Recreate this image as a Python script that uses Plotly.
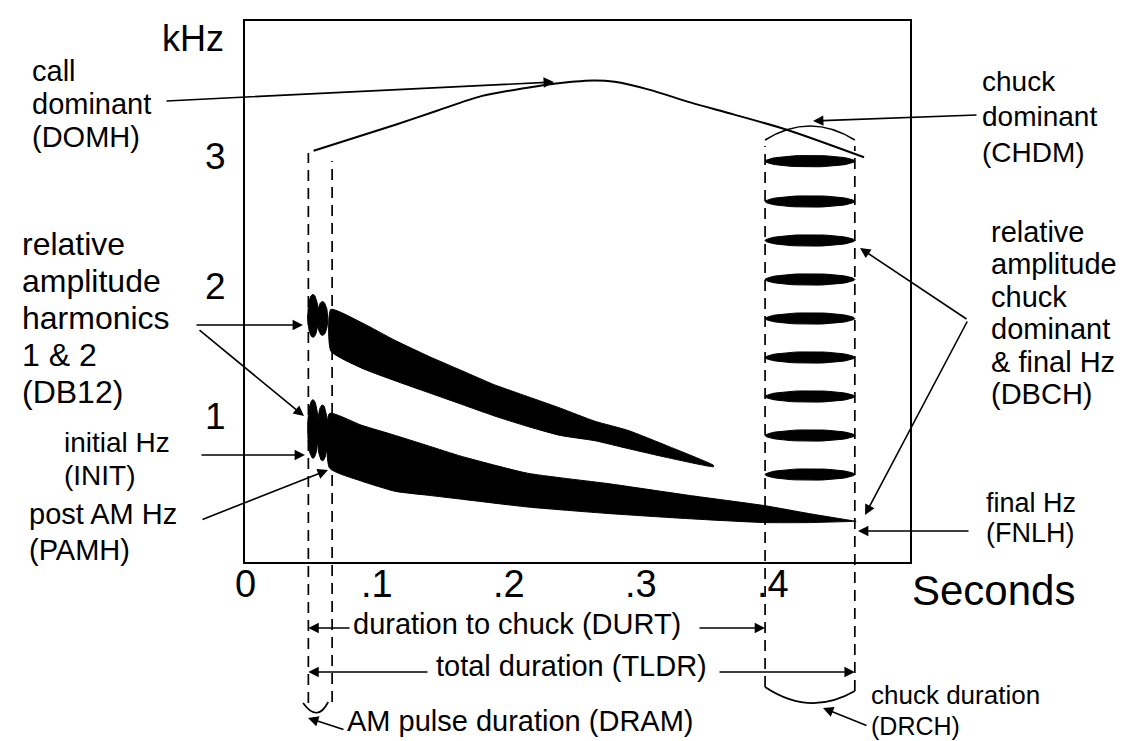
import numpy as np
import plotly.graph_objects as go

# ------------------------------------------------------------------ data
x_tick_vals = [0.0, 0.1, 0.2, 0.3, 0.4]
x_tick_text = ["0", ".1", ".2", ".3", ".4"]
y_tick_vals = [1, 2, 3]
y_tick_text = ["1", "2", "3"]

# call events (seconds)
call_start = 0.048
am_end = 0.066
chuck_start = 0.394
call_end = 0.462

# call dominant frequency contour (DOMH), kHz
domh_t = [0.052, 0.114, 0.146, 0.179, 0.211, 0.230, 0.264, 0.280, 0.306, 0.338, 0.370, 0.411, 0.469]
domh_khz = [3.04, 3.24, 3.35, 3.46, 3.52, 3.55, 3.58, 3.57, 3.51, 3.41, 3.32, 3.20, 2.99]

# harmonic 2 band (upper / lower edge, kHz)
h2_t = [0.065, 0.088, 0.114, 0.139, 0.164, 0.189, 0.214, 0.239, 0.265, 0.290, 0.320, 0.355]
h2_top = [1.82, 1.72, 1.58, 1.46, 1.35, 1.24, 1.15, 1.06, 0.96, 0.89, 0.77, 0.62]
h2_bottom = [1.50, 1.37, 1.27, 1.18, 1.09, 1.00, 0.92, 0.85, 0.81, 0.75, 0.68, 0.61]

# harmonic 1 band (upper / lower edge, kHz)
h1_t = [0.064, 0.088, 0.114, 0.139, 0.164, 0.214, 0.275, 0.336, 0.394, 0.427, 0.463]
h1_top = [1.02, 0.93, 0.85, 0.77, 0.69, 0.56, 0.48, 0.39, 0.31, 0.25, 0.19]
h1_bottom = [0.60, 0.50, 0.42, 0.39, 0.36, 0.30, 0.25, 0.21, 0.18, 0.18, 0.19]

# AM pulse lobes
am_lobe_t = [0.0515, 0.0587]
h2_lobe_khz = [1.77, 1.75]
h2_lobe_half = [0.165, 0.13]
h1_lobe_khz = [0.90, 0.87]
h1_lobe_half = [0.225, 0.215]

# chuck pulses (kHz)
chuck_khz = [2.96, 2.65, 2.35, 2.05, 1.75, 1.45, 1.15, 0.85, 0.55]
chuck_half_khz = 0.044

# ------------------------------------------------------------------ layout helpers
W, H = 1137, 741
X0, X1, Y0, Y1 = 237, 902, 13, 554          # plot box in pixels
T_RANGE = [0.0, 0.5038]
F_RANGE = [-0.123, 4.038]
FONT = "Liberation Sans, Arial, Helvetica, sans-serif"


def tx(px):
    return T_RANGE[0] + (px - X0) / (X1 - X0) * (T_RANGE[1] - T_RANGE[0])


def fy(py):
    return F_RANGE[1] - (py - Y0) / (Y1 - Y0) * (F_RANGE[1] - F_RANGE[0])


def pxp(px):
    return (px - X0) / (X1 - X0)


def pyp(py):
    return (Y1 - py) / (Y1 - Y0)


fig = go.Figure()

# harmonic bands
for t, top, bot in [(h2_t, h2_top, h2_bottom), (h1_t, h1_top, h1_bottom)]:
    xs = list(t) + list(t[::-1]) + [t[0]]
    ys = list(top) + list(bot[::-1]) + [top[0]]
    fig.add_trace(go.Scatter(x=xs, y=ys, mode="lines", fill="toself",
                             fillcolor="black", line=dict(color="black", width=1, shape="spline", smoothing=0.5),
                             hoverinfo="skip"))

# AM lobes
th = np.linspace(0, 2 * np.pi, 60)
lobe_hw = 0.0040
for lf, lh in [(h2_lobe_khz, h2_lobe_half), (h1_lobe_khz, h1_lobe_half)]:
    for ct, cf, hh in zip(am_lobe_t, lf, lh):
        fig.add_trace(go.Scatter(x=ct + lobe_hw * np.cos(th), y=cf + hh * np.sin(th),
                                 mode="lines", fill="toself", fillcolor="black",
                                 line=dict(color="black", width=1), hoverinfo="skip"))

# chucks
c_mid = (chuck_start + call_end) / 2
c_hw = (call_end - chuck_start) / 2
for cf in chuck_khz:
    s = np.sin(th)
    fig.add_trace(go.Scatter(x=c_mid + c_hw * np.cos(th),
                             y=cf + chuck_half_khz * np.sign(s) * np.abs(s) ** 1.1,
                             mode="lines", fill="toself", fillcolor="black",
                             line=dict(color="black", width=1), hoverinfo="skip"))

# dominant frequency contour
fig.add_trace(go.Scatter(x=domh_t, y=domh_khz, mode="lines",
                         line=dict(color="black", width=2, shape="spline", smoothing=0.8),
                         hoverinfo="skip"))

shapes = []
dash = "11px,7px"
for t, ptop, pbot in [(call_start, 145, 695), (am_end, 153, 694),
                      (chuck_start, 138, 679), (call_end, 138, 683)]:
    shapes.append(dict(type="line", xref="x", yref="paper", x0=t, x1=t,
                       y0=pyp(pbot), y1=pyp(ptop), line=dict(color="black", width=1.7, dash=dash)))
# chuck dominant bracket (top)
shapes.append(dict(type="path", xref="x", yref="y",
                   path=f"M {chuck_start},{fy(132)} Q {c_mid},{fy(104)} {call_end},{fy(132)}",
                   line=dict(color="black", width=1.7)))
# chuck duration bracket (bottom)
shapes.append(dict(type="path", xref="x", yref="paper",
                   path=f"M {chuck_start},{pyp(679)} Q {c_mid},{pyp(709)} {call_end},{pyp(683)}",
                   line=dict(color="black", width=1.7)))
# AM pulse bracket
am_mid = (call_start + am_end) / 2
shapes.append(dict(type="path", xref="x", yref="paper",
                   path=f"M {call_start - 0.004},{pyp(695)} Q {am_mid - 0.002},{pyp(715)} {am_end - 0.003},{pyp(694)}",
                   line=dict(color="black", width=1.7)))

annotations = []

# x tick labels (drawn at the tick values on the time axis, just below the frame)
XTICK_SIZE = 38
for v, lab in zip(x_tick_vals, x_tick_text):
    annotations.append(dict(text=lab, xref="x", yref="paper", x=v,
                            y=pyp(589 - 0.3465 * XTICK_SIZE), xanchor="center", yanchor="middle",
                            showarrow=False, font=dict(size=XTICK_SIZE, color="black", family=FONT)))

# text labels: (text, left px, baseline px, size)
labels = [
    ("kHz", 153, 43, 36),
    ("call", 23, 73, 29), ("dominant", 23, 106, 29), ("(DOMH)", 23, 139, 29),
    ("relative", 13, 247, 32), ("amplitude", 13, 284, 32), ("harmonics", 13, 321, 32),
    ("1 & 2", 13, 358, 32), ("(DB12)", 13, 395, 32),
    ("initial Hz", 55, 444, 28), ("(INIT)", 55, 477, 28),
    ("post AM Hz", 20, 516, 29), ("(PAMH)", 20, 552, 29),
    ("chuck", 973, 83, 28), ("dominant", 973, 118, 28), ("(CHDM)", 973, 154, 28),
    ("relative", 982, 234, 29), ("amplitude", 982, 266, 29), ("chuck", 982, 299, 29),
    ("dominant", 982, 331, 29), ("& final Hz", 982, 364, 29), ("(DBCH)", 982, 396, 29),
    ("final Hz", 977, 504, 27), ("(FNLH)", 977, 534, 27),
    ("duration to chuck (DURT)", 344, 626, 29),
    ("total duration (TLDR)", 427, 668, 29),
    ("AM pulse duration (DRAM)", 338, 723, 29),
    ("chuck duration", 862, 696, 26), ("(DRCH)", 862, 727, 25),
    ("Seconds", 903, 597, 42),
]
for text, lx, base, size in labels:
    annotations.append(dict(text=text, xref="paper", yref="paper", x=pxp(lx - 1),
                            y=pyp(base - 0.3465 * size), xanchor="left", yanchor="middle",
                            showarrow=False, font=dict(size=size, color="black", family=FONT)))

arrow_style = dict(showarrow=True, arrowhead=2, arrowsize=1.3, arrowwidth=1.6,
                   arrowcolor="black", standoff=0, startstandoff=0, text="")

# arrows into plot (head px, head py, tail px, tail py)
inner_arrows = [
    (546, 74, 157, 93),     # DOMH
    (805, 113, 970, 107),   # CHDM
    (295, 317, 187, 317),   # DB12 a
    (296, 408, 190, 321),   # DB12 b
    (297, 447, 192, 447),   # INIT
    (320, 462, 193, 512),   # PAMH
    (852, 240, 960, 312),   # DBCH a
    (857, 507, 960, 312),   # DBCH b
    (850, 523, 962, 523),   # FNLH
]
for hx, hy, tx_, ty_ in inner_arrows:
    annotations.append(dict(xref="x", yref="y", x=tx(hx), y=fy(hy),
                            axref="x", ayref="y", ax=tx(tx_), ay=fy(ty_), **arrow_style))

# duration arrows below the axis (head t, head py, tail t, tail py)
low_arrows = [
    (call_start, 620, tx(343), 620),
    (chuck_start, 620, tx(690), 620),
    (call_start, 664, tx(421), 664),
    (call_end, 664, tx(710), 664),
    (tx(300), 710, tx(337), 722),
    (tx(815), 700, tx(860), 718),
]
for ht, hy, tt, ty_ in low_arrows:
    annotations.append(dict(xref="x", yref="paper", x=ht, y=pyp(hy),
                            axref="x", ayref="pixel", ax=tt, ay=ty_ - hy, **arrow_style))

fig.update_layout(
    width=W, height=H, margin=dict(l=X0, r=W - X1, t=Y0, b=H - Y1),
    paper_bgcolor="white", plot_bgcolor="white", showlegend=False,
    font=dict(family=FONT, color="black"),
    shapes=shapes, annotations=annotations,
)
fig.update_xaxes(range=T_RANGE, tickvals=x_tick_vals, showticklabels=False, ticks="",
                 showline=True, mirror=True, linecolor="black",
                 linewidth=2, showgrid=False, zeroline=False)
fig.update_yaxes(range=F_RANGE, tickvals=y_tick_vals, ticktext=y_tick_text,
                 tickfont=dict(size=37, color="black", family=FONT), ticks="",
                 ticklabelstandoff=10, showline=True, mirror=True, linecolor="black",
                 linewidth=2, showgrid=False, zeroline=False)

fig.write_html("out.html")
